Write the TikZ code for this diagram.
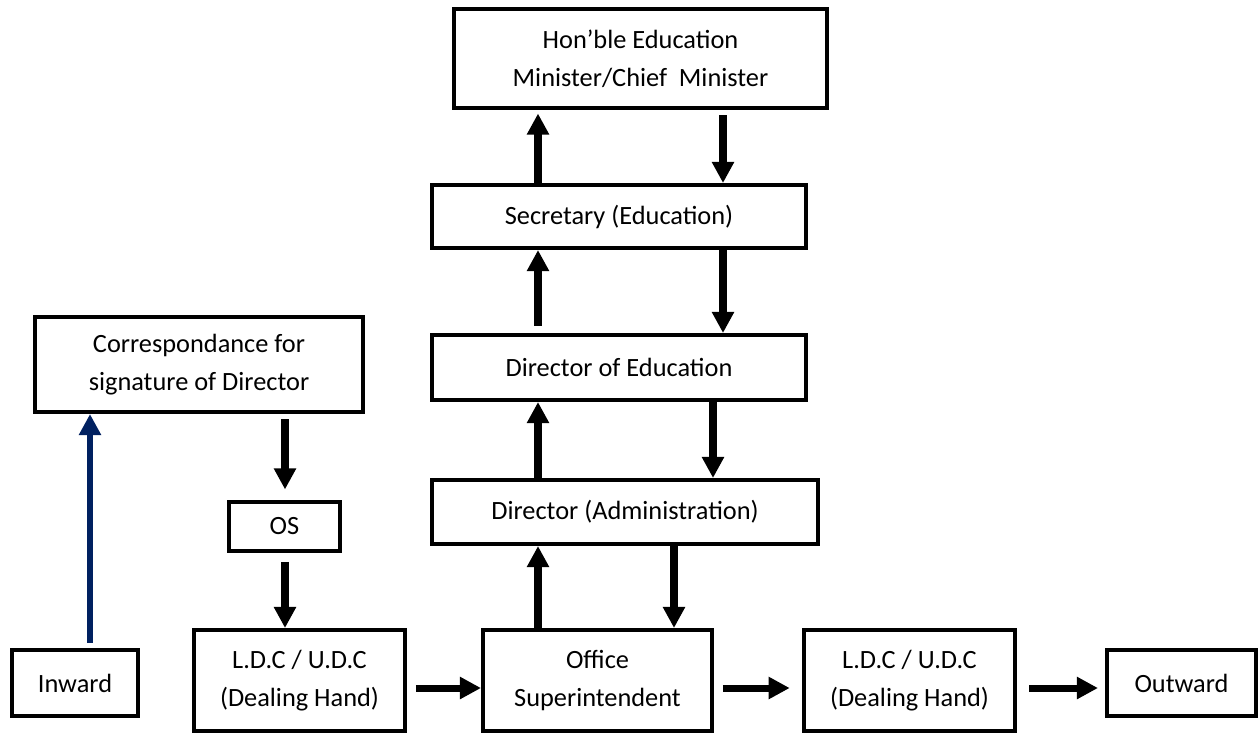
\documentclass[tikz,border=0pt]{standalone}
\usepackage{fontspec}
\setmainfont{Carlito}
\usetikzlibrary{arrows.meta}
\definecolor{navy}{RGB}{0,32,96}
\tikzset{
  box/.style={shape=rectangle, draw=black, line width=2.3pt, fill=white,
    align=center, inner sep=0pt, font=\fontsize{15}{21.5}\selectfont},
  flow/.style={-{Triangle[width=12pt,length=12pt]}, line width=4pt},
}

\begin{document}
\begin{tikzpicture}[x=0.02cm, y=-0.02cm]
          \useasboundingbox (0,0) rectangle (1260,738);

          % nodes
          \node[box, minimum width=7.46cm, minimum height=1.98cm] at (640.5,58.5)
          (hon) {Hon’ble Education\\Minister/Chief\ \ Minister};
          \node[box, minimum width=7.48cm, minimum height=1.26cm] at (619,216.5)
          (sec) {Secretary (Education)};
          \node[box, minimum width=7.48cm, minimum height=1.30cm] at (619,367.5)
          (doe) {Director of Education};
          \node[box, minimum width=7.72cm, minimum height=1.28cm] at (625,512)
          (adm) {Director (Administration)};
          \node[box, minimum width=6.56cm, minimum height=1.90cm] at (199,364.5)
          (corr) {Correspondance for\\signature of Director};
          \node[box, minimum width=2.22cm, minimum height=0.98cm] at (284.5,526.5)
          (os) {OS};
          \node[box, minimum width=2.52cm, minimum height=1.32cm] at (75,683)
          (inw) {Inward};
          \node[box, minimum width=4.22cm, minimum height=2.02cm] at (299.5,680.5)
          (ldca) {L.D.C / U.D.C\\(Dealing Hand)};
          \node[box, minimum width=4.58cm, minimum height=2.02cm] at (597.5,680.5)
          (off) {Office\\Superintendent};
          \node[box, minimum width=4.22cm, minimum height=2.02cm] at (909.5,680.5)
          (ldcb) {L.D.C / U.D.C\\(Dealing Hand)};
          \node[box, minimum width=2.98cm, minimum height=1.32cm] at (1181.5,683)
          (outw) {Outward};

          % arrow lanes
          \coordinate (lx) at (538,0);
          \coordinate (rxa) at (723,0);
          \coordinate (rxb) at (713,0);
          \coordinate (rxc) at (674,0);
          \coordinate (cx) at (285,0);
          \coordinate (bx) at (90,0);
          \coordinate (ry) at (0,688);

          % arcs up
          \path[flow]
          (sec.north -| lx) edge[shorten >=2pt] (hon.south -| lx)
          (doe.north -| lx) edge[shorten <=4pt] (sec.south -| lx)
          (adm.north -| lx) edge (doe.south -| lx)
          (off.north -| lx) edge (adm.south -| lx)
          ;
          % arcs down
          \path[flow]
          (hon.south -| rxa) edge[shorten <=3pt] (sec.north -| rxa)
          (sec.south -| rxa) edge (doe.north -| rxa)
          (doe.south -| rxb) edge (adm.north -| rxb)
          (adm.south -| rxc) edge (off.north -| rxc)
          (corr.south -| cx) edge[shorten <=3pt, shorten >=6pt] (os.north -| cx)
          (os.south -| cx) edge[shorten <=5pt] (ldca.north -| cx)
          ;
          % arcs across
          \path[flow]
          (ldca.east |- ry) edge[shorten <=5pt] (off.west |- ry)
          (off.east |- ry) edge[shorten <=5pt, shorten >=7pt] (ldcb.west |- ry)
          (ldcb.east |- ry) edge[shorten <=7pt, shorten >=4pt] (outw.west |- ry)
          ;
          \path[flow, navy, line width=3.5pt]
          (inw.north -| bx) edge[shorten <=3pt] (corr.south -| bx)
          ;
        \end{tikzpicture}
\end{document}
